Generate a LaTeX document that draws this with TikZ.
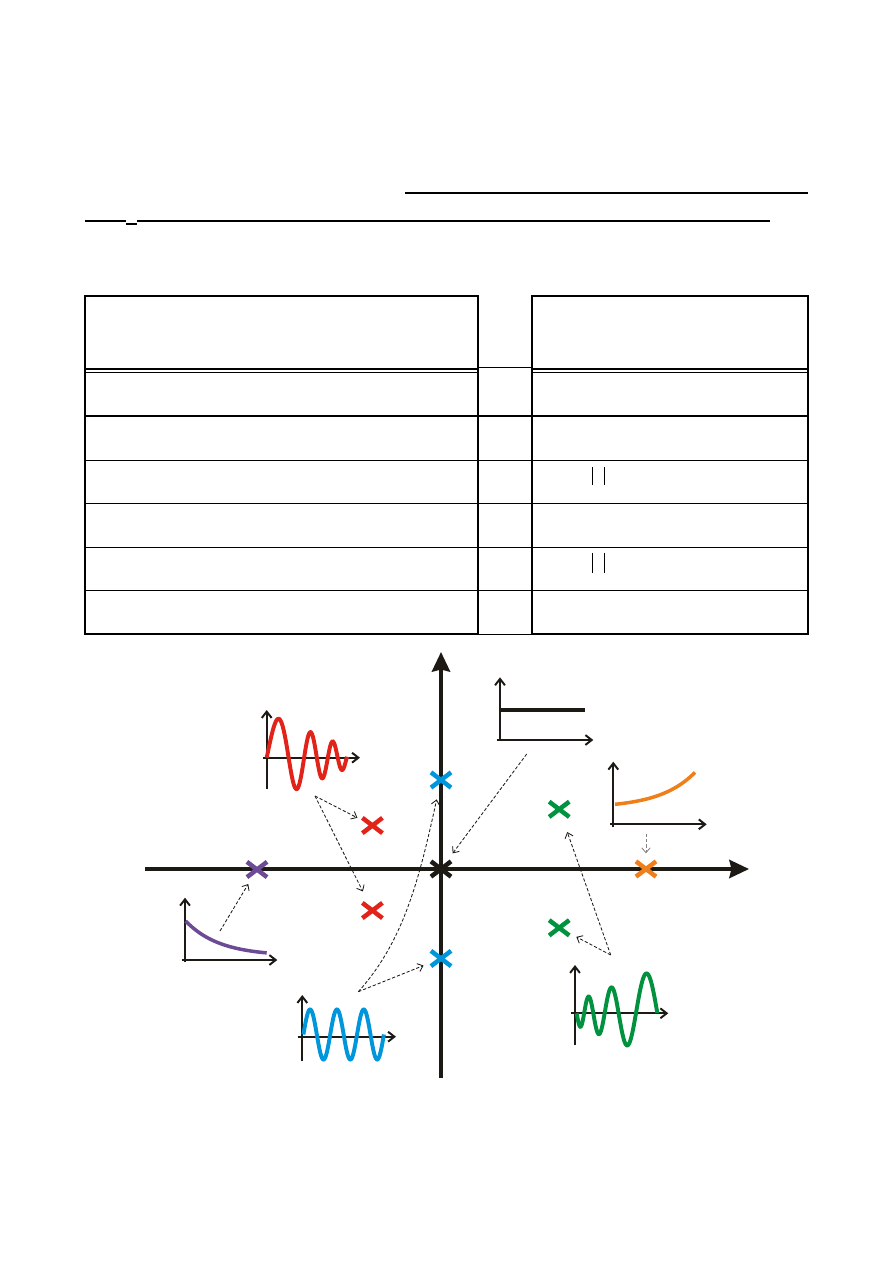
\documentclass[tikz,border=0pt]{standalone}
\usepackage{xcolor}
\usetikzlibrary{arrows.meta,shapes.misc}
\definecolor{inkblack}{RGB}{29,26,22}
\definecolor{polered}{RGB}{226,35,26}
\definecolor{poleblue}{RGB}{0,150,219}
\definecolor{polegreen}{RGB}{0,146,63}
\definecolor{poleorange}{RGB}{239,127,26}
\definecolor{polepurple}{RGB}{109,74,150}
\tikzset{
  rulethick/.style={
    line width=1.65pt
  },
  rulethin/.style={
    line width=0.75pt
  },
  mainaxis/.style={
    draw=inkblack,
    line width=2.35pt,
    -{Stealth[length=14pt,width=13pt,inset=1.5pt]}
  },
  smallaxis/.style={
    draw=inkblack,
    line width=1.4pt,
    -{Straight Barb[length=4.5pt,width=7pt]}
  },
  pole/.style={
    cross out,
    draw,
    line width=3.2pt,
    minimum width=3.9mm,
    minimum height=2.7mm,
    inner sep=0pt
  },
  hint/.style={
    draw=inkblack,
    line width=0.6pt,
    dash pattern=on 2.3pt off 1.4pt,
    -{Straight Barb[length=3.5pt,width=6pt]},
    shorten >=2mm
  },
  signal/.style={
    line width=2.8pt
  }
}

\begin{document}
\begin{tikzpicture}[x=0.25mm, y=-0.25mm]
  \useasboundingbox (0,0) rectangle (893,1263);

  \draw[rulethick] (405,193) -- (808,193);
  \draw[line width=1.9pt] (85,221) -- (126,221) (126,224) -- (137,224) (137,221) -- (770,221);

  \draw[rulethick] (85,296) rectangle (478.3,634.3);
  \draw[rulethick] (531.7,296) rectangle (808,634.3);
  \draw[rulethick] (85,368.7) -- (478.3,368.7) (531.7,368.7) -- (808,368.7);
  \draw[rulethin] (85,372.5) -- (478.3,372.5) (531.7,372.5) -- (808,372.5);
  \draw[rulethin] (478.3,367.3) -- (531.7,367.3) (478.3,634.3) -- (531.7,634.3);
  \foreach \y in {416,460.3,503.3,547.3,590.3}
    \draw[rulethin] (85,\y) -- (808,\y);
  \draw[rulethin] (592.3,467) -- (592.3,485) (604.3,467) -- (604.3,485)
                  (592.3,553) -- (592.3,573) (604.3,553) -- (604.3,573);

  \draw[mainaxis] (145,869) -- (749,869);
  \draw[mainaxis] (441,1078) -- (441,652);

  \node[pole, draw=inkblack] (p0) at (441,869) {};
  \node[pole, draw=poleblue] (pb1) at (441,780) {};
  \node[pole, draw=poleblue] (pb2) at (441,958.5) {};
  \node[pole, draw=polered] (pr1) at (372.4,825.5) {};
  \node[pole, draw=polered] (pr2) at (372.4,910.5) {};
  \node[pole, draw=polepurple] (pp) at (257,869.5) {};
  \node[pole, draw=poleorange] (po) at (646,869) {};
  \node[pole, draw=polegreen] (pg1) at (559.2,809.3) {};
  \node[pole, draw=polegreen] (pg2) at (559.2,927.8) {};

  \draw[smallaxis] (266.7,789) -- (266.7,710);
  \draw[smallaxis] (263,757.7) -- (360,757.7);
  \draw[signal, polered] plot[domain=0:80.3, samples=160]
    ({266.7+\x}, {757.7-(44-0.42*\x)*sin(deg(0.1085*\x+0.001589*\x*\x))});

  \draw[smallaxis] (302.3,1060.7) -- (302.3,995);
  \draw[smallaxis] (297.7,1036.7) -- (396,1036.7);
  \draw[signal, poleblue] plot[domain=0:80.5, samples=160]
    ({303.4+\x}, {1034.5-25*sin(13.418*\x)});

  \draw[smallaxis] (575,1045) -- (575,965);
  \draw[smallaxis] (571,1013.3) -- (668.3,1013.3);
  \draw[signal, polegreen] plot[domain=0:80.6, samples=160]
    ({576.7+\x}, {1013.3+(12+0.4*\x)*sin(deg(14.83*ln(1+0.0318*\x)))});

  \draw[smallaxis] (613.3,826.7) -- (613.3,761.7);
  \draw[smallaxis] (610,824.3) -- (706.7,824.3);
  \draw[signal, poleorange, line width=2.5pt] plot[domain=0:80, samples=60]
    ({615+\x}, {804.3-3.62*(exp(\x/35)-1)});

  \draw[smallaxis] (185,961.7) -- (185,897.7);
  \draw[smallaxis] (181.7,960) -- (277.3,960);
  \draw[signal, polepurple, line width=2.5pt] plot[domain=0:81, samples=60]
    ({185.7+\x}, {956-35*exp(-\x/33.5)});

  \draw[smallaxis] (500,740.7) -- (500,677.3);
  \draw[smallaxis] (496.7,740) -- (593.3,740);
  \draw[inkblack, line width=2.4pt] (500,710) -- (585,710);

  \coordinate (redsrc) at (315,796);
  \coordinate (bluesrc) at (358.3,991.7);
  \coordinate (purplesrc) at (220,931);
  \coordinate (stepsrc) at (526.7,754);
  \coordinate (orangesrc) at (646,834);
  \coordinate (greensrc) at (610.7,955);

  \draw[hint, shorten >=1.4mm] (redsrc) -- (pr1);
  \draw[hint, shorten >=3.2mm] (redsrc) -- (pr2);
  \draw[hint] (bluesrc) -- (pb2);
  \draw[hint, shorten >=3mm] (bluesrc) .. controls (405,940) and (420,875) .. (pb1);
  \draw[hint] (purplesrc) -- (pp);
  \draw[hint, shorten >=2.5mm] (stepsrc) -- (p0);
  \draw[hint, draw=gray] (orangesrc) -- (po);
  \draw[hint] (greensrc) -- (pg2);
  \draw[hint, shorten >=4mm] (greensrc) -- (pg1);
\end{tikzpicture}
\end{document}
